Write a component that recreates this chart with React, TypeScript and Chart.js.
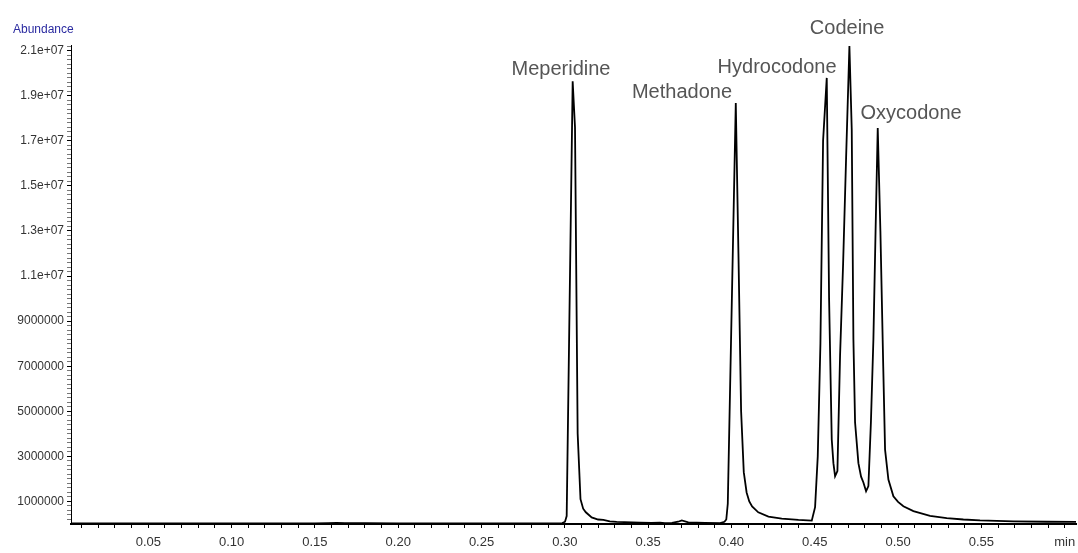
import React, { useEffect, useRef } from 'react';
import { Chart, registerables } from 'chart.js';

Chart.register(...registerables);

// Retention time (min) of each sampled point of the chromatogram trace
const retentionTimes = [
  0.0036, 0.05, 0.1, 0.15, 0.158, 0.163, 0.168, 0.18, 0.2, 0.25,
  0.2985, 0.3001, 0.3011, 0.3047, 0.3061, 0.3077, 0.3094, 0.311, 0.3126, 0.3161,
  0.32, 0.3231, 0.327, 0.3311, 0.3451, 0.352, 0.3571, 0.36, 0.3643, 0.368,
  0.3702, 0.3741, 0.3842, 0.3932, 0.3958, 0.3969, 0.3978, 0.4026, 0.4042, 0.4058,
  0.4074, 0.4091, 0.4107, 0.4124, 0.4161, 0.4222, 0.4302, 0.4402, 0.4482, 0.4502,
  0.4518, 0.4534, 0.455, 0.4572, 0.4586, 0.4602, 0.4612, 0.4622, 0.4636, 0.4652,
  0.467, 0.4688, 0.4708, 0.4722, 0.4732, 0.4742, 0.4762, 0.4778, 0.4792, 0.4808,
  0.4822, 0.4837, 0.4852, 0.4865, 0.4878, 0.4894, 0.4911, 0.4922, 0.4942, 0.4972,
  0.5, 0.5032, 0.5092, 0.5192, 0.5292, 0.5392, 0.5492, 0.5692, 0.5892, 0.6068,
];

// Abundance (counts) at each retention time
const abundance = [
  30000, 30000, 30000, 32000, 40000, 45000, 38000, 33000, 30000, 30000,
  40000, 100000, 350000, 19640000, 17600000, 4000000, 1100000, 680000, 520000, 290000,
  200000, 180000, 120000, 90000, 60000, 50000, 60000, 40000, 50000, 100000,
  160000, 70000, 50000, 40000, 100000, 200000, 900000, 18680000, 12000000, 5000000,
  2300000, 1400000, 1000000, 780000, 520000, 330000, 240000, 180000, 150000, 750000,
  3000000, 8000000, 17000000, 19790000, 10000000, 3750000, 2700000, 2120000, 2350000, 7500000,
  11500000, 16200000, 21200000, 17500000, 8200000, 4500000, 2700000, 2100000, 1840000, 1450000,
  1680000, 4500000, 8200000, 13000000, 17570000, 13000000, 7000000, 3300000, 1970000, 1230000,
  980000, 790000, 570000, 360000, 260000, 200000, 160000, 120000, 100000, 90000,
];

// Compound annotations (name, anchor time, anchor abundance)
const peakNames = ['Meperidine', 'Methadone', 'Hydrocodone', 'Codeine', 'Oxycodone'];
const peakLabelTimes = [0.2977, 0.3703, 0.4274, 0.4694, 0.5078];
const peakLabelAbundance = [20150000, 19150000, 20250000, 22000000, 18200000];

// Axis definitions
const yMajorStart = 1000000;
const yMajorStep = 2000000;
const yMinorStep = 200000;
const yMin = 0;
const yMax = 21250000;
const xMin = 0.0036;
const xMax = 0.6068;
const xMinorHundredths = 60; // ticks at 0.01 .. 0.60
const xUnitLabel = 'min';
const yAxisTitle = 'Abundance';

function formatY(v: number): string {
  if (v >= 10000000) return (v / 10000000).toFixed(1) + 'e+07';
  return String(Math.round(v));
}

function isYMajor(v: number): boolean {
  return Math.round(v - yMajorStart) % yMajorStep === 0;
}

export default function App() {
  const canvasRef = useRef<HTMLCanvasElement | null>(null);

  useEffect(() => {
    const canvas = canvasRef.current;
    if (!canvas) return;

    const labelPlugin = {
      id: 'peakLabels',
      afterDatasetsDraw(chart: any) {
        const { ctx, scales } = chart;
        const xs = scales.x;
        const ys = scales.y;
        ctx.save();
        ctx.font = '20px "Liberation Sans", Arial, sans-serif';
        ctx.fillStyle = '#555555';
        ctx.textAlign = 'center';
        ctx.textBaseline = 'middle';
        peakNames.forEach((name, i) => {
          ctx.fillText(name, xs.getPixelForValue(peakLabelTimes[i]), ys.getPixelForValue(peakLabelAbundance[i]));
        });
        ctx.font = '12px "Liberation Sans", Arial, sans-serif';
        ctx.fillStyle = '#2a2aa0';
        ctx.textAlign = 'left';
        ctx.fillText(yAxisTitle, 13, 30);
        ctx.restore();
      },
    };

    const yTickValues: number[] = [];
    for (let k = 1; k * yMinorStep <= yMax; k++) yTickValues.push(k * yMinorStep);
    const xTickValues: number[] = [];
    for (let k = 1; k <= xMinorHundredths; k++) xTickValues.push(k / 100);

    const chart = new Chart(canvas, {
      type: 'line',
      data: {
        datasets: [
          {
            data: retentionTimes.map((t, i) => ({ x: t, y: abundance[i] })),
            borderColor: '#000000',
            borderWidth: 1.8,
            pointRadius: 0,
            tension: 0,
            fill: false,
            clip: false as any,
          },
        ],
      },
      options: {
        animation: false,
        responsive: false,
        events: [],
        layout: { padding: { top: 45, right: 2, left: 0, bottom: 0 } },
        plugins: { legend: { display: false }, tooltip: { enabled: false }, title: { display: false } },
        scales: {
          x: {
            type: 'linear',
            min: xMin,
            max: xMax,
            afterBuildTicks: (scale: any) => {
              scale.ticks = xTickValues.map((v) => ({ value: v }));
            },
            afterFit: (scale: any) => {
              scale.height = 29;
              scale.paddingLeft = 0;
              scale.paddingRight = 0;
            },
            ticks: {
              autoSkip: false,
              maxRotation: 0,
              padding: 7,
              color: '#333333',
              font: { family: '"Liberation Sans", Arial, sans-serif', size: 13 },
              callback: (value: any) => {
                const k = Math.round(Number(value) * 100);
                if (k % 5 !== 0) return '';
                if (k === 60) return xUnitLabel;
                return (k / 100).toFixed(2);
              },
            },
            grid: {
              display: true,
              drawOnChartArea: false,
              drawTicks: true,
              tickLength: 4,
              tickWidth: 1,
              tickColor: '#000000',
            },
            border: { display: true, color: '#000000', width: 2 },
          },
          y: {
            type: 'linear',
            min: yMin,
            max: yMax,
            afterBuildTicks: (scale: any) => {
              scale.ticks = yTickValues.map((v) => ({ value: v }));
            },
            afterFit: (scale: any) => {
              scale.width = 71;
              scale.paddingTop = 0;
              scale.paddingBottom = 0;
            },
            ticks: {
              autoSkip: false,
              padding: 3,
              color: '#333333',
              font: { family: '"Liberation Sans", Arial, sans-serif', size: 12 },
              callback: (value: any) => {
                const v = Number(value);
                return isYMajor(v) ? formatY(v) : '';
              },
            },
            grid: {
              display: true,
              drawOnChartArea: false,
              drawTicks: true,
              tickLength: 4,
              tickWidth: 1,
              tickColor: (ctx: any) => (ctx.tick && isYMajor(ctx.tick.value) ? '#000000' : '#777777'),
            },
            border: { display: true, color: '#000000', width: 1 },
          },
        },
      },
      plugins: [labelPlugin],
    } as any);

    return () => chart.destroy();
  }, []);

  return (
    <div style={{ position: 'fixed', left: 0, top: 0, width: 1078, height: 553, background: '#ffffff' }}>
      <canvas ref={canvasRef} width={1078} height={553} style={{ display: 'block', width: 1078, height: 553 }} />
    </div>
  );
}
